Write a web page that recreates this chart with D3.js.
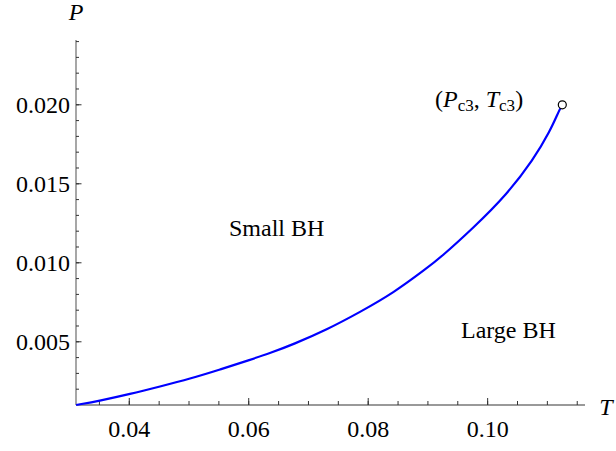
<!DOCTYPE html>
<html><head><meta charset="utf-8">
<script src="https://cdn.jsdelivr.net/npm/d3@7"></script>
<style>
html,body{margin:0;padding:0;background:#fff;}
</style></head>
<body><svg id="c" width="616" height="451"></svg>
<script>
// Data
const T = [0.0311, 0.03509, 0.04012, 0.04514, 0.05016, 0.05519, 0.06021, 0.06356, 0.06746, 0.07305, 0.07863, 0.08420, 0.08979, 0.09202, 0.09759, 0.10318, 0.10764, 0.11043, 0.11201, 0.11236];
const P = [0.0010, 0.00127, 0.00169, 0.00217, 0.00266, 0.00324, 0.00386, 0.00428, 0.00484, 0.00576, 0.00688, 0.00808, 0.00965, 0.01030, 0.01220, 0.01430, 0.01652, 0.01831, 0.01968, 0.0199];
const criticalPoint = {T: 0.1125, P: 0.0200};
const xMajorTicks = [0.04, 0.06, 0.08, 0.10];
const xTickLabels = ["0.04", "0.06", "0.08", "0.10"];
const yMajorTicks = [0.005, 0.010, 0.015, 0.020];
const yTickLabels = ["0.005", "0.010", "0.015", "0.020"];
const xMinorTicks = d3.range(0.035, 0.1151, 0.005);
const yMinorTicks = d3.range(0.002, 0.02401, 0.001);

// pick an available serif font
function pickFont(cands) {
  const ctx = document.createElement("canvas").getContext("2d");
  const s = "Small BH 0.0123456789 (Pc3, Tc3)";
  ctx.font = "40px monospace"; const wm = ctx.measureText(s).width;
  ctx.font = "40px sans-serif"; const ws = ctx.measureText(s).width;
  for (const c of cands) {
    ctx.font = `40px "${c}", monospace`; const a = ctx.measureText(s).width;
    ctx.font = `40px "${c}", sans-serif`; const b = ctx.measureText(s).width;
    if (a !== wm || b !== ws) return `"${c}"`;
  }
  return "serif";
}
const FONT = pickFont(["Liberation Serif", "Times New Roman", "Tinos", "Nimbus Roman", "Nimbus Roman No9 L", "Noto Serif", "DejaVu Serif"]);

const svg = d3.select("#c").attr("font-family", FONT);
const x = d3.scaleLinear().domain([0.03108, 0.1163]).range([76, 585]);
const y = d3.scaleLinear().domain([0.001, 0.0241]).range([405, 40]);

const axisColor = "#777";
svg.append("line").attr("x1", x.range()[0]).attr("x2", x.range()[1])
  .attr("y1", y(0.001)).attr("y2", y(0.001)).attr("stroke", axisColor).attr("stroke-width", 1.3);
svg.append("line").attr("x1", x(0.03108)).attr("x2", x(0.03108))
  .attr("y1", y.range()[0]).attr("y2", y.range()[1]).attr("stroke", axisColor).attr("stroke-width", 1.3);

// x ticks
svg.selectAll(".xmin").data(xMinorTicks).enter().append("line")
  .attr("x1", d => x(d)).attr("x2", d => x(d)).attr("y1", y(0.001)).attr("y2", y(0.001) - 4)
  .attr("stroke", "#333").attr("stroke-width", 1);
svg.selectAll(".xmaj").data(xMajorTicks).enter().append("line")
  .attr("x1", d => x(d)).attr("x2", d => x(d)).attr("y1", y(0.001)).attr("y2", y(0.001) - 7)
  .attr("stroke", "#333").attr("stroke-width", 1);
svg.selectAll(".xlab").data(xMajorTicks).enter().append("text")
  .attr("x", d => x(d)).attr("y", 437).attr("text-anchor", "middle")
  .attr("font-size", 24).text((d, i) => xTickLabels[i]);

// y ticks
svg.selectAll(".ymin").data(yMinorTicks).enter().append("line")
  .attr("x1", x(0.03108)).attr("x2", x(0.03108) + 3).attr("y1", d => y(d)).attr("y2", d => y(d))
  .attr("stroke", "#333").attr("stroke-width", 1);
svg.selectAll(".ymaj").data(yMajorTicks).enter().append("line")
  .attr("x1", x(0.03108)).attr("x2", x(0.03108) + 5.5).attr("y1", d => y(d)).attr("y2", d => y(d))
  .attr("stroke", "#333").attr("stroke-width", 1);
svg.selectAll(".ylab").data(yMajorTicks).enter().append("text")
  .attr("x", 70).attr("y", d => y(d) + 8.5).attr("text-anchor", "end")
  .attr("font-size", 24).text((d, i) => yTickLabels[i]);

// axis labels
svg.append("text").attr("x", 76).attr("y", 20).attr("text-anchor", "middle")
  .attr("font-size", 24).attr("font-style", "italic").text("P");
svg.append("text").attr("x", 606).attr("y", 415).attr("text-anchor", "middle")
  .attr("font-size", 24).attr("font-style", "italic").text("T");

// curve
const pts = T.map((t, i) => [t, P[i]]);
svg.append("path").datum(pts)
  .attr("d", d3.line().x(d => x(d[0])).y(d => y(d[1])).curve(d3.curveBasis))
  .attr("fill", "none").attr("stroke", "#0000ff").attr("stroke-width", 2.2);

// critical point
svg.append("circle").attr("cx", x(criticalPoint.T)).attr("cy", y(criticalPoint.P)).attr("r", 4)
  .attr("fill", "#fff").attr("stroke", "#000").attr("stroke-width", 1.2);

// annotations
const cp = svg.append("text").attr("x", 435).attr("y", 107).attr("font-size", 24);
cp.append("tspan").text("(");
cp.append("tspan").attr("font-style", "italic").text("P");
cp.append("tspan").attr("dy", 4).attr("font-size", 17).text("c3");
cp.append("tspan").attr("dy", -4).text(", ");
cp.append("tspan").attr("font-style", "italic").text("T");
cp.append("tspan").attr("dy", 4).attr("font-size", 17).text("c3");
cp.append("tspan").attr("dy", -4).text(")");

svg.append("text").attr("x", 229).attr("y", 236).attr("font-size", 24).text("Small BH");
svg.append("text").attr("x", 461).attr("y", 338).attr("font-size", 24).text("Large BH");
</script></body></html>
